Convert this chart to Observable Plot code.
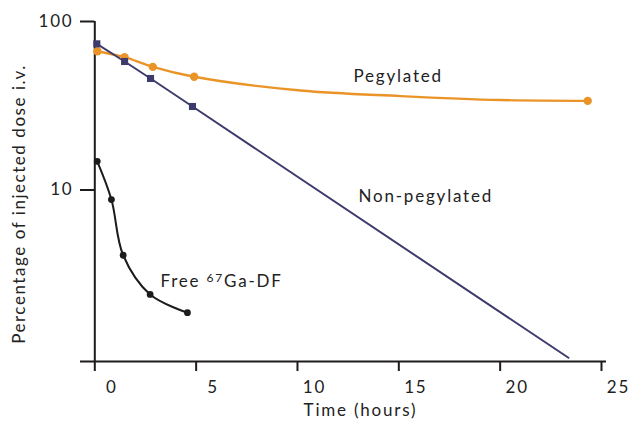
<!DOCTYPE html>
<html><head><meta charset="utf-8">
<script src="https://cdn.jsdelivr.net/npm/d3@7"></script>
<script src="https://cdn.jsdelivr.net/npm/@observablehq/plot@0.6"></script>
<style>body{margin:0;background:#fff}</style>
</head><body><div id="chart"></div>
<script>
// Pegylated (markers)
const pegTime = [0.13, 1.47, 2.86, 4.90, 24.32];
const pegValue = [66.6, 61.4, 53.8, 47.0, 33.8];
// Pegylated curve, read along the drawn line between markers
const pegCurveTime = [10.15, 15.08, 20.02];
const pegCurveValue = [38.95, 36.1, 34.2];
// Non-pegylated (markers) and end of the straight line
const nonPegTime = [0.10, 1.47, 2.75, 4.82];
const nonPegValue = [73.7, 57.9, 45.9, 31.3];
const nonPegEndTime = [23.37];
const nonPegEndValue = [1.01];
// Free 67Ga-DF
const freeTime = [0.12, 0.82, 1.40, 2.73, 4.57];
const freeValue = [14.8, 8.78, 4.10, 2.40, 1.87];

const xTicks = [0, 5, 10, 15, 20, 25];
const yTicks = [10, 100];
const seriesLabels = ["Pegylated", "Non-pegylated", "Free 67Ga-DF"];
const freeLabelParts = ["Free ", "67", "Ga-DF"];
const xLabel = "Time (hours)";
const yLabel = "Percentage of injected dose i.v.";

const orange = "#ea9428", navy = "#3d3b6c", black = "#1c1c1c", axisColor = "#1e1b1c";
const xMin = -0.7055, xMax = 25.247, yMin = 0.96, yMax = 100;

const zip = (t, v) => t.map((d, i) => ({t: d, v: v[i]}));
const pegMarkers = zip(pegTime, pegValue);
const pegCurve = zip(pegTime.concat(pegCurveTime), pegValue.concat(pegCurveValue)).sort((a, b) => a.t - b.t);
const nonPegMarkers = zip(nonPegTime, nonPegValue);
const nonPegLine = nonPegMarkers.concat(zip(nonPegEndTime, nonPegEndValue));
const freeMarkers = zip(freeTime, freeValue);

const chart = Plot.plot({
  width: 631, height: 427,
  marginTop: 21, marginBottom: 66, marginLeft: 80, marginRight: 25,
  style: {fontFamily: "Lato, sans-serif", fontSize: "16px", letterSpacing: "1.8px", color: "#222", background: "#fff"},
  x: {domain: [xMin, xMax]},
  y: {type: "log", domain: [yMin, yMax]},
  marks: [
    Plot.ruleY([yMin], {stroke: axisColor, strokeWidth: 2}),
    Plot.ruleX([0], {y1: yMin, y2: yMax, stroke: axisColor, strokeWidth: 2}),
    Plot.ruleY(yTicks, {x1: xMin, x2: 0, stroke: axisColor, strokeWidth: 2}),
    Plot.axisY(yTicks, {tickSize: 0, tickPadding: 7, tickFormat: d => String(d), label: null, fontSize: 17}),
    Plot.axisX(xTicks, {tickSize: 10, fill: "none", stroke: axisColor, strokeWidth: 2, label: null}),
    Plot.axisX(xTicks, {tickSize: 0, tickPadding: 19, dx: 17, tickFormat: d => String(d), label: null, fontSize: 17}),
    Plot.text([yLabel], {frameAnchor: "left", textAnchor: "middle", rotate: -90, dx: -61, dy: 12.5, fontSize: 17, style: "letter-spacing:1.55px"}),
    Plot.text([xLabel], {frameAnchor: "bottom", textAnchor: "middle", dx: 17, dy: 54.6, fontSize: 17}),
    Plot.line(pegCurve, {x: "t", y: "v", stroke: orange, strokeWidth: 2.3, curve: "catmull-rom"}),
    Plot.line(nonPegLine, {x: "t", y: "v", stroke: navy, strokeWidth: 2}),
    Plot.line(freeMarkers, {x: "t", y: "v", stroke: black, strokeWidth: 2, curve: "catmull-rom"}),
    Plot.dot(pegMarkers, {x: "t", y: "v", r: 4.2, fill: orange}),
    Plot.dot(nonPegMarkers, {x: "t", y: "v", r: 4.0, symbol: "square", fill: navy}),
    Plot.dot(freeMarkers, {x: "t", y: "v", r: 3.4, fill: black}),
    Plot.text([
      {label: seriesLabels[0], t: 12.76, v: 47.2},
      {label: seriesLabels[1], t: 13.01, v: 9.2},
      {label: seriesLabels[2], t: 3.24, v: 2.88}
    ], {x: "t", y: "v", text: "label", textAnchor: "start", fontSize: 17})
  ]
});

chart.querySelectorAll("text").forEach(el => {
  if (el.textContent === yLabel) el.style.letterSpacing = "1.55px";
  if (el.textContent === seriesLabels[2]) {
    el.textContent = "";
    const ns = "http://www.w3.org/2000/svg";
    const a = document.createElementNS(ns, "tspan"); a.textContent = freeLabelParts[0];
    const b = document.createElementNS(ns, "tspan"); b.textContent = freeLabelParts[1];
    b.setAttribute("font-size", "12"); b.setAttribute("dy", "-4.5");
    const c = document.createElementNS(ns, "tspan"); c.textContent = freeLabelParts[2];
    c.setAttribute("dy", "4.5");
    el.append(a, b, c);
  }
});
document.getElementById("chart").append(chart);
</script>
</body></html>
